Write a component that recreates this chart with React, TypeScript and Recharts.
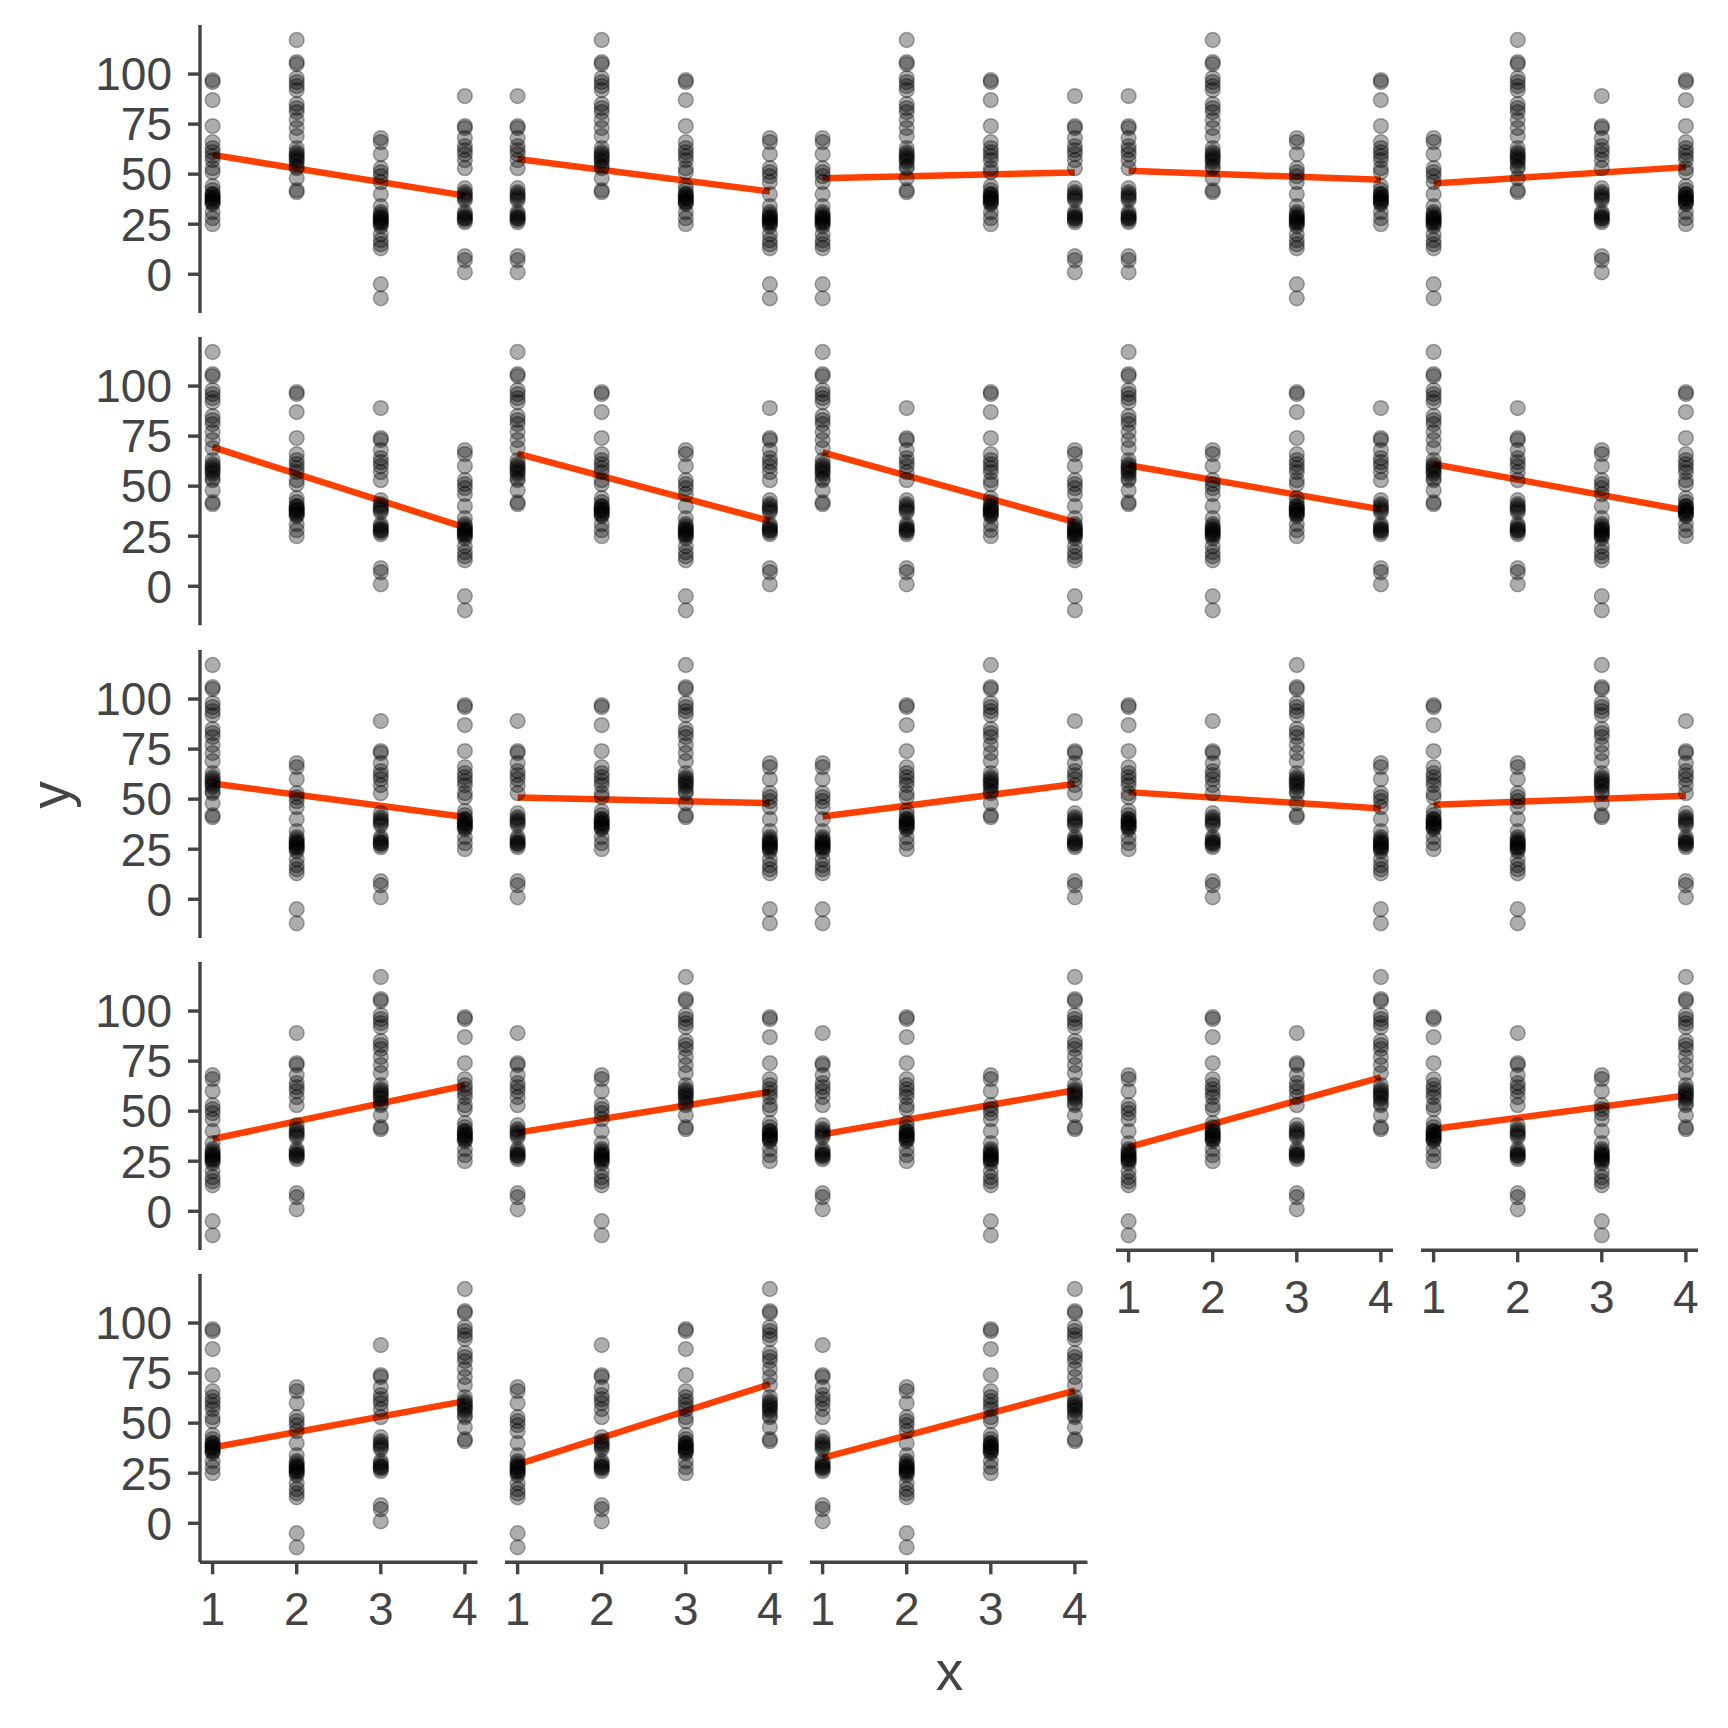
import React from "react"
import { ScatterChart, Scatter, XAxis, YAxis } from "recharts"

// the four groups of y values; every panel shows them in a different order along x
const groupA = [97, 96, 87, 74, 66, 63, 61, 59, 57, 53, 51, 44, 42, 40, 40, 39, 38, 38, 37, 36, 36, 35, 31, 28, 25]
const groupB = [117, 106, 105, 98, 96, 94, 92, 85, 83, 81, 77, 73, 69, 63, 61, 60, 59, 58, 57, 56, 54, 53, 48, 42, 41]
const groupC = [68, 66, 60, 53, 51, 49, 46, 40, 34, 31, 30, 29, 28, 28, 27, 26, 26, 25, 24, 20, 17, 15, 13, -5, -12]
const groupD = [89, 74, 73, 68, 64, 62, 60, 57, 53, 43, 41, 40, 39, 38, 37, 31, 30, 29, 28, 28, 27, 26, 9, 7, 1]

const groups: Record<string, number[]> = { A: groupA, B: groupB, C: groupC, D: groupD }

// group order at x = 1..4, panels read left to right, top to bottom
const panelOrders = [
  "ABCD", "DBAC", "CBAD", "DBCA", "CBDA",
  "BADC", "BACD", "BDAC", "BCAD", "BDCA",
  "BCDA", "DABC", "CABD", "ADBC", "ACBD",
  "CDBA", "DCBA", "DACB", "CADB", "ADCB",
  "ACDB", "CDAB", "DCAB",
]

const xTicks = [1, 2, 3, 4]
const yTicks = [0, 25, 50, 75, 100]
const xDomain = [0.85, 4.15]
const yDomain = [-19.5, 124.5]

const INK = "#444444"
const FIT_COLOR = "#ff4000"
const FONT = "'Liberation Sans', Arial, sans-serif"

const PLOT_W = 277.5
const PLOT_H = 288.3
const LEFT0 = 200
const TOP0 = 25
const COL_STEP = 305.2
const ROW_STEP = 312.3
const Y_AXIS_W = 200
const X_AXIS_H = 90

type Pt = { x: number; y: number }

function buildPoints(order: string): Pt[] {
  const pts: Pt[] = []
  order.split("").forEach((g, i) => {
    groups[g].forEach((v) => pts.push({ x: i + 1, y: v }))
  })
  return pts
}

// ordinary least squares, like geom_smooth(method = "lm")
function fitLine(pts: Pt[]): Pt[] {
  const n = pts.length
  const mx = pts.reduce((s, p) => s + p.x, 0) / n
  const my = pts.reduce((s, p) => s + p.y, 0) / n
  let sxy = 0
  let sxx = 0
  pts.forEach((p) => {
    sxy += (p.x - mx) * (p.y - my)
    sxx += (p.x - mx) * (p.x - mx)
  })
  const slope = sxy / sxx
  const at = (x: number) => my + slope * (x - mx)
  return [
    { x: 1, y: at(1) },
    { x: 4, y: at(4) },
  ]
}

const Dot = (props: any) => {
  if (props.cx == null || props.cy == null) return <g />
  return (
    <circle
      cx={props.cx}
      cy={props.cy}
      r={7.4}
      fill="#000"
      fillOpacity={0.32}
      stroke="#000"
      strokeOpacity={0.32}
      strokeWidth={1.5}
    />
  )
}

const NoDot = () => <g />

const tickStyle = { fill: INK, fontSize: 46, fontFamily: FONT }

function Panel({ order, index }: { order: string; index: number }) {
  const row = Math.floor(index / 5)
  const col = index % 5
  const hasY = col === 0
  const hasX = row === 4 || (row === 3 && col >= 3)

  const points = buildPoints(order)
  const fit = fitLine(points)

  const left = LEFT0 + col * COL_STEP - (hasY ? Y_AXIS_W : 0)
  const top = TOP0 + row * ROW_STEP
  const width = PLOT_W + (hasY ? Y_AXIS_W : 0)
  const height = PLOT_H + (hasX ? X_AXIS_H : 0)

  return (
    <div style={{ position: "absolute", left, top, width, height }}>
      <ScatterChart width={width} height={height} margin={{ top: 0, right: 0, bottom: 0, left: 0 }}>
        <XAxis
          type="number"
          dataKey="x"
          domain={xDomain}
          ticks={xTicks}
          interval={0}
          allowDataOverflow
          hide={!hasX}
          height={X_AXIS_H}
          tickSize={12}
          tickMargin={18}
          axisLine={{ stroke: INK, strokeWidth: 3.4 }}
          tickLine={{ stroke: INK, strokeWidth: 3.4 }}
          tick={tickStyle}
        />
        <YAxis
          type="number"
          dataKey="y"
          domain={yDomain}
          ticks={yTicks}
          interval={0}
          allowDataOverflow
          hide={!hasY}
          width={Y_AXIS_W}
          tickSize={12}
          tickMargin={16}
          axisLine={{ stroke: INK, strokeWidth: 3.4 }}
          tickLine={{ stroke: INK, strokeWidth: 3.4 }}
          tick={tickStyle}
        />
        <Scatter
          data={fit}
          line={{ stroke: FIT_COLOR, strokeWidth: 6.5 }}
          shape={NoDot}
          isAnimationActive={false}
        />
        <Scatter data={points} shape={Dot} isAnimationActive={false} />
      </ScatterChart>
    </div>
  )
}

export default function App() {
  return (
    <div
      style={{
        position: "absolute",
        left: 0,
        top: 0,
        width: 1728,
        height: 1728,
        background: "#fff",
        overflow: "hidden",
      }}
    >
      {panelOrders.map((order, i) => (
        <Panel key={order} order={order} index={i} />
      ))}
      <svg width={1728} height={1728} style={{ position: "absolute", left: 0, top: 0, pointerEvents: "none" }}>
        <text x={949.5} y={1690} textAnchor="middle" fill={INK} fontSize={55} fontFamily={FONT}>
          x
        </text>
        <text
          x={68.5}
          y={795}
          textAnchor="middle"
          fill={INK}
          fontSize={55}
          fontFamily={FONT}
          transform="rotate(-90 68.5 795)"
        >
          y
        </text>
      </svg>
    </div>
  )
}
